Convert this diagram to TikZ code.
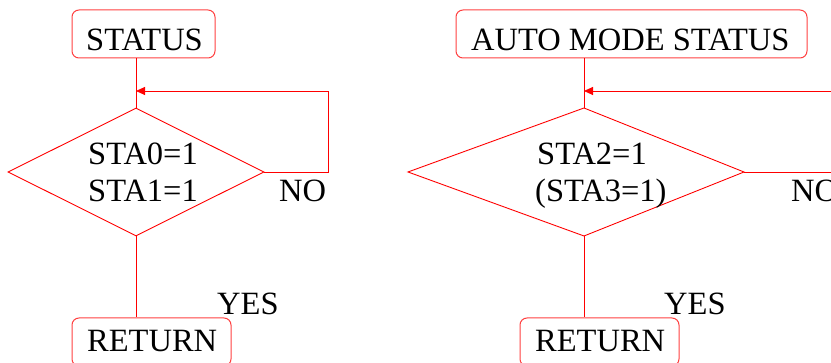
\documentclass[tikz,border=0pt]{standalone}
\usepackage{fontspec}
\setmainfont{Liberation Serif}
\usetikzlibrary{shapes.geometric,arrows.meta}
\begin{document}
\begin{tikzpicture}[x=1pt,y=-1pt,
  flow/.style={draw=red,line width=0.9pt},
  boxshape/.style={draw=red!75,line width=1pt,rounded corners=7pt,inner sep=0pt},
  dshape/.style={draw=red,line width=0.9pt,shape=diamond,shape aspect=2,inner sep=0pt,minimum width=256pt,minimum height=128pt},
  lbl/.style={anchor=base west,inner sep=0pt,font=\fontsize{32.5}{38}\selectfont},
  tip/.style={-{Triangle[length=9pt,width=8pt]}}
]
\useasboundingbox (0,0) rectangle (831,363);
\clip (0,0) rectangle (831,363);
% left flow
\node[boxshape,minimum width=143pt,minimum height=48pt] (s1) at (143.5,34) {};
\node[lbl] (s1t) at (86,51) {STATUS};
\node[dshape] (d1) at (136,172) {};
\node[lbl] (d1a) at (88,165) {STA0=1};
\node[lbl] (d1b) at (88,202) {STA1=1};
\node[lbl] (no1) at (279,202) {NO};
\node[lbl] (yes1) at (217,315) {YES};
\node[boxshape,minimum width=159pt,minimum height=48pt] (r1) at (151.5,342) {};
\node[lbl] (r1t) at (87,352) {RETURN};
\coordinate (m1) at (136,91);
\coordinate (c1a) at (328,172);
\coordinate (c1b) at (328,91);
\draw[flow] (d1.north |- s1.south) -- (d1.north);
\draw[flow,tip] (d1.east) -- (c1a) -- (c1b) -- (m1);
\draw[flow] (d1.south) -- (d1.south |- r1.north);
% right flow
\node[boxshape,minimum width=351pt,minimum height=48pt] (s2) at (631.5,34) {};
\node[lbl] (s2t) at (471,51) {AUTO MODE STATUS};
\coordinate (d2n) at (584,108);
\coordinate (d2w) at (408,172);
\coordinate (d2s) at (584,236);
\coordinate (d2e) at (744,172);
\draw[flow] (d2n) -- (d2e) -- (d2s) -- (d2w) -- cycle;
\node[lbl] (d2a) at (537,165) {STA2=1};
\node[lbl] (d2b) at (535,202) {(STA3=1)};
\node[lbl] (no2) at (791,202) {NO};
\node[lbl] (yes2) at (664,315) {YES};
\node[boxshape,minimum width=159pt,minimum height=48pt] (r2) at (599.5,342) {};
\node[lbl] (r2t) at (535,352) {RETURN};
\coordinate (m2) at (584,91);
\coordinate (c2a) at (860,172);
\coordinate (c2b) at (860,91);
\draw[flow] (d2n |- s2.south) -- (d2n);
\draw[flow,tip] (d2e) -- (c2a) -- (c2b) -- (m2);
\draw[flow] (d2s) -- (d2s |- r2.north);
\end{tikzpicture}
\end{document}
